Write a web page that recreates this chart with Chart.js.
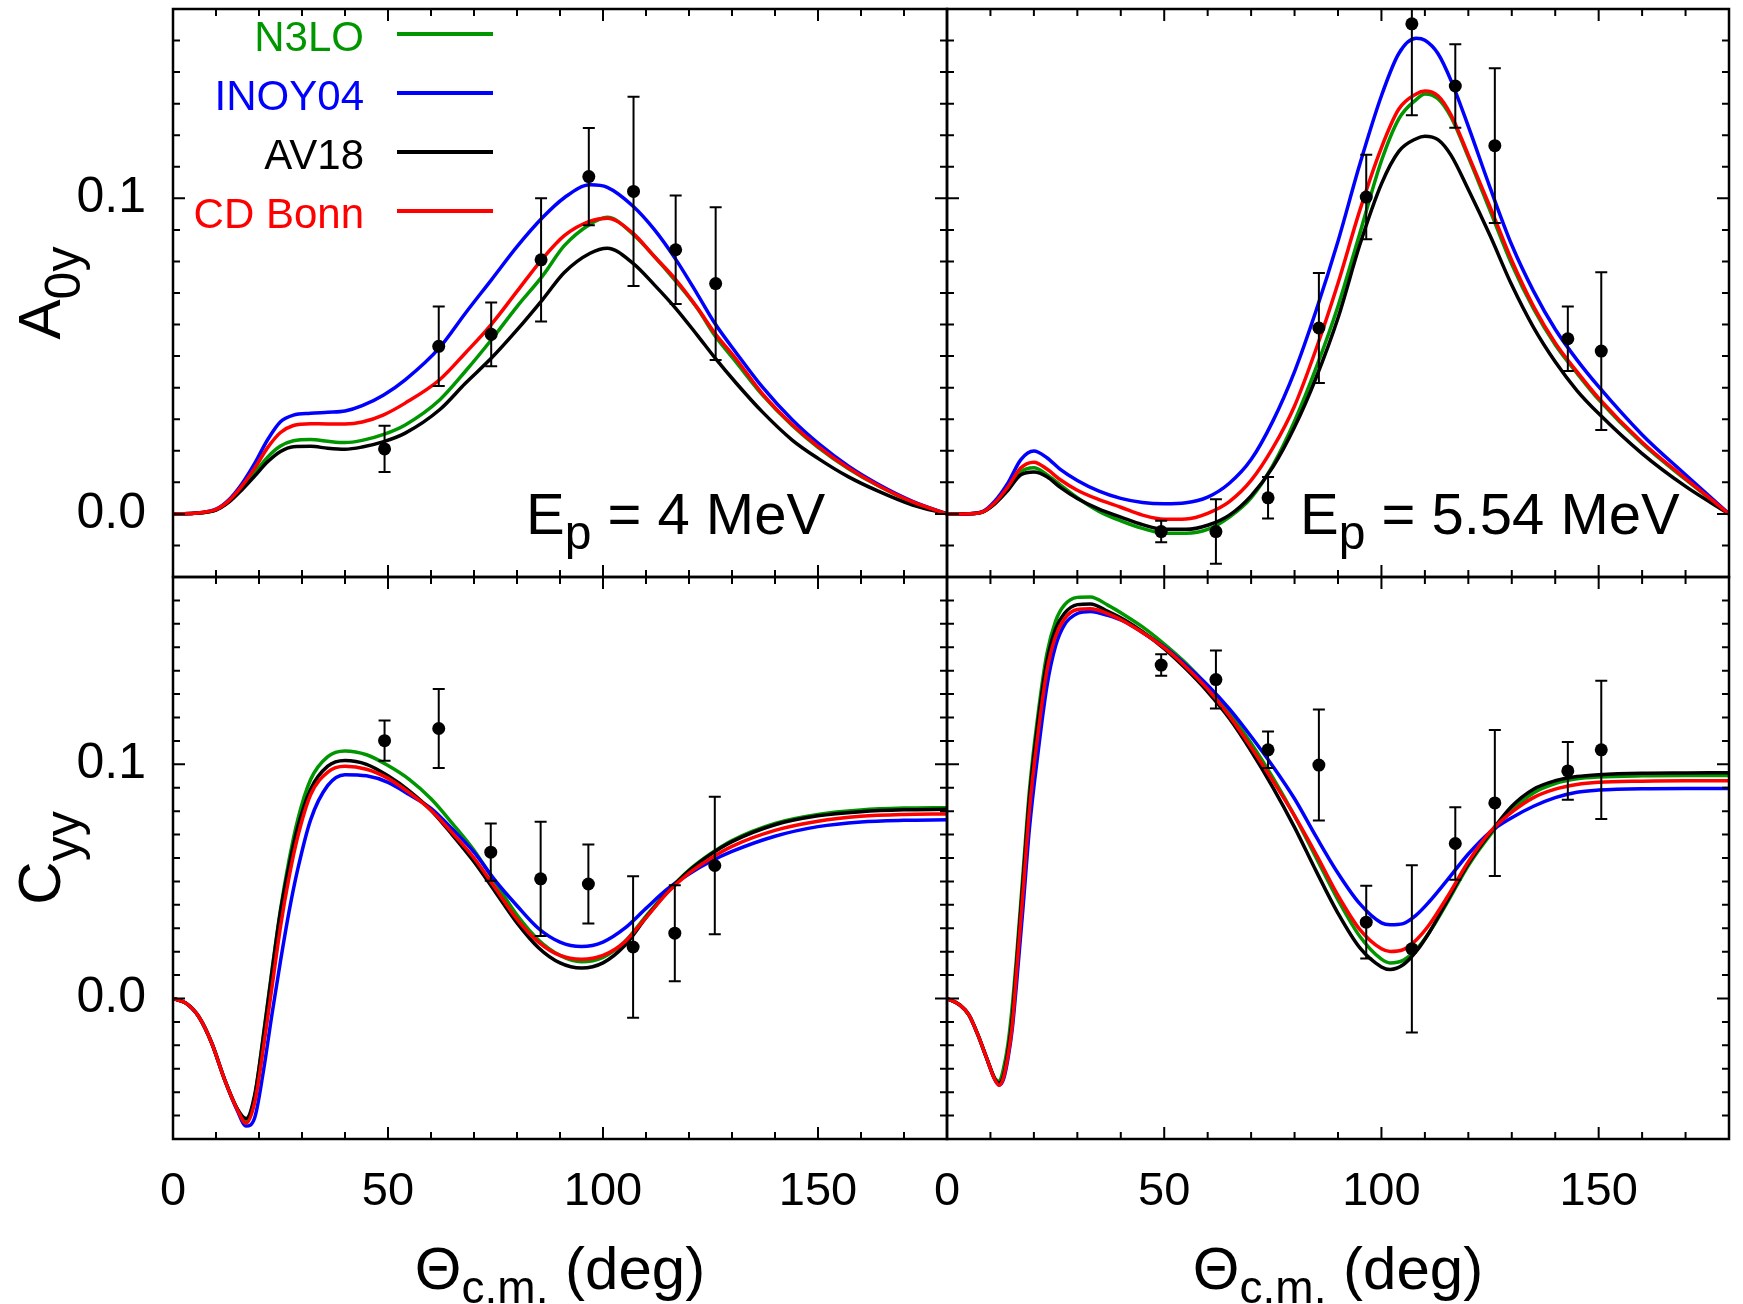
<!DOCTYPE html>
<html>
<head>
<meta charset="utf-8">
<script src="https://cdn.jsdelivr.net/npm/chart.js@4.4.1/dist/chart.umd.min.js"></script>
<style>
html,body{margin:0;padding:0;background:#fff;}
#wrap{position:relative;width:1743px;height:1304px;overflow:hidden;background:#fff;}
#wrap canvas{position:absolute;left:0;top:0;}
</style>
</head>
<body>
<div id="wrap">
<canvas id="cTL" width="1743" height="1304"></canvas>
<canvas id="cTR" width="1743" height="1304"></canvas>
<canvas id="cBL" width="1743" height="1304"></canvas>
<canvas id="cBR" width="1743" height="1304"></canvas>
</div>
<script>
// ---------------- data ----------------
const seriesNames = ['N3LO', 'INOY04', 'AV18', 'CD Bonn'];
const energies = ['4 MeV', '5.54 MeV'];
const xTickValues = [0, 50, 100, 150];
const yTickValues = [0.0, 0.1];

// A0y, Ep = 4 MeV
const thetaA4 = [0,5,10,13,16,19,22,25,28,32,36,40,44,49,54,62,68,74,80,86,91,97,101,107,112,117,122,126,131,137,144,150,157,164,172,180];
const A4_N3LO   = [0,0.0002,0.0013,0.0040,0.0082,0.0130,0.0180,0.0215,0.0232,0.0236,0.0230,0.0226,0.0233,0.0252,0.0282,0.0361,0.0452,0.0551,0.0657,0.0755,0.0850,0.0918,0.0940,0.0886,0.0815,0.0736,0.0650,0.0565,0.0480,0.0378,0.0280,0.0211,0.0144,0.0089,0.0037,0];
const A4_INOY04 = [0,0.0002,0.0015,0.0045,0.0095,0.0160,0.0235,0.0292,0.0313,0.0319,0.0322,0.0326,0.0343,0.0377,0.0425,0.0527,0.0636,0.0741,0.0847,0.0940,0.1002,0.1043,0.1035,0.0975,0.0900,0.0805,0.0695,0.0604,0.0510,0.0403,0.0298,0.0224,0.0152,0.0094,0.0040,0];
const A4_AV18   = [0,0.0002,0.0012,0.0037,0.0076,0.0120,0.0165,0.0198,0.0213,0.0214,0.0208,0.0205,0.0212,0.0229,0.0256,0.0330,0.0414,0.0493,0.0583,0.0680,0.0765,0.0826,0.0842,0.0794,0.0725,0.0650,0.0565,0.0495,0.0414,0.0324,0.0234,0.0176,0.0118,0.0072,0.0028,0];
const A4_CDBonn = [0,0.0002,0.0014,0.0042,0.0088,0.0145,0.0210,0.0258,0.0280,0.0286,0.0285,0.0285,0.0291,0.0314,0.0351,0.0425,0.0510,0.0600,0.0705,0.0810,0.0882,0.0928,0.0937,0.0889,0.0815,0.0741,0.0652,0.0573,0.0490,0.0382,0.0283,0.0214,0.0146,0.0090,0.0038,0];
const expThetaA4 = [49.2,61.8,74.0,85.6,96.7,107.1,116.9,126.2];
const expA4      = [0.0206,0.0531,0.0569,0.0805,0.1069,0.1022,0.0837,0.0730];
const errA4      = [0.0073,0.0126,0.0101,0.0195,0.0154,0.0300,0.0172,0.0242];

// A0y, Ep = 5.54 MeV
const thetaA554 = [0,4,8,11,14,17,20,23,26,30,35,40,45,50,55,60,65,70,75,80,85,90,95,100,104,108,110,113,116,120,125,130,135,140,145,150,160,170,180];
const A554_N3LO   = [0,0,0.0005,0.0033,0.0075,0.0133,0.0146,0.0124,0.0093,0.0051,0.0008,-0.0022,-0.0046,-0.0061,-0.0061,-0.0049,-0.0010,0.0051,0.0154,0.0294,0.0464,0.0658,0.0888,0.1119,0.1252,0.1313,0.1331,0.1316,0.1258,0.1131,0.0961,0.0791,0.0650,0.0536,0.0446,0.0362,0.0223,0.0109,0];
const A554_INOY04 = [0,0,0.0006,0.0040,0.0097,0.0172,0.0199,0.0178,0.0142,0.0106,0.0072,0.0049,0.0036,0.0032,0.0035,0.0053,0.0097,0.0172,0.0294,0.0451,0.0646,0.0864,0.1107,0.1325,0.1459,0.1507,0.1501,0.1459,0.1374,0.1228,0.1034,0.0852,0.0706,0.0585,0.0488,0.0403,0.0251,0.0124,0];
const A554_AV18   = [0,0,0.0005,0.0032,0.0075,0.0124,0.0133,0.0118,0.0085,0.0049,0.0015,-0.0010,-0.0034,-0.0049,-0.0049,-0.0036,-0.0004,0.0057,0.0148,0.0275,0.0433,0.0621,0.0852,0.1046,0.1149,0.1189,0.1197,0.1186,0.1137,0.1028,0.0882,0.0725,0.0591,0.0482,0.0391,0.0318,0.0191,0.0087,0];
const A554_CDBonn = [0,0,0.0005,0.0035,0.0085,0.0146,0.0164,0.0142,0.0109,0.0075,0.0045,0.0021,-0.0004,-0.0017,-0.0016,0.0002,0.0039,0.0106,0.0209,0.0342,0.0524,0.0731,0.0961,0.1161,0.1283,0.1331,0.1340,0.1325,0.1265,0.1137,0.0973,0.0803,0.0658,0.0542,0.0451,0.0367,0.0227,0.0112,0];
const expThetaA554 = [49.3,61.9,73.9,85.6,96.5,107.0,117.0,126.1,142.9,150.6];
const expA554      = [-0.0056,-0.0056,0.0051,0.0589,0.1004,0.1553,0.1356,0.1167,0.0555,0.0516];
const errA554      = [0.0034,0.0102,0.0066,0.0174,0.0134,0.0290,0.0132,0.0245,0.0102,0.0250];

// Cyy, Ep = 4 MeV
const thetaC4 = [0,3,6,9,12,15,17,19,21,23,25,27,29,32,36,40,45,50,55,60,65,70,75,80,85,90,95,100,105,110,115,120,125,130,140,150,160,170,180];
const C4_N3LO   = [0,-0.0020,-0.0078,-0.0190,-0.0346,-0.0474,-0.0525,-0.0420,-0.0158,0.0119,0.0380,0.0592,0.0763,0.0935,0.1033,0.1057,0.1041,0.0995,0.0935,0.0853,0.0747,0.0633,0.0494,0.0356,0.0250,0.0184,0.0157,0.0176,0.0241,0.0352,0.0457,0.0548,0.0618,0.0675,0.0748,0.0786,0.0805,0.0813,0.0815];
const C4_INOY04 = [0,-0.0020,-0.0078,-0.0190,-0.0346,-0.0480,-0.0545,-0.0509,-0.0313,-0.0069,0.0160,0.0372,0.0551,0.0763,0.0910,0.0956,0.0951,0.0923,0.0870,0.0812,0.0723,0.0625,0.0502,0.0396,0.0299,0.0241,0.0222,0.0241,0.0299,0.0385,0.0468,0.0532,0.0585,0.0628,0.0693,0.0734,0.0754,0.0761,0.0763];
const C4_AV18   = [0,-0.0020,-0.0078,-0.0190,-0.0346,-0.0472,-0.0512,-0.0411,-0.0166,0.0111,0.0372,0.0568,0.0731,0.0894,0.0992,0.1016,0.1000,0.0951,0.0886,0.0804,0.0698,0.0584,0.0454,0.0323,0.0217,0.0152,0.0130,0.0152,0.0225,0.0345,0.0454,0.0545,0.0615,0.0670,0.0742,0.0780,0.0798,0.0806,0.0808];
const C4_CDBonn = [0,-0.0020,-0.0078,-0.0190,-0.0346,-0.0476,-0.0533,-0.0444,-0.0215,0.0046,0.0307,0.0519,0.0690,0.0870,0.0967,0.0992,0.0979,0.0940,0.0878,0.0804,0.0706,0.0600,0.0470,0.0339,0.0241,0.0184,0.0168,0.0184,0.0241,0.0345,0.0452,0.0535,0.0598,0.0650,0.0718,0.0757,0.0778,0.0786,0.0788];
const expThetaC4 = [49.2,61.8,73.9,85.5,96.6,107.0,116.7,126.0];
const expC4      = [0.1101,0.1153,0.0625,0.0511,0.0489,0.0220,0.0279,0.0568];
const errC4      = [0.0086,0.0169,0.0122,0.0244,0.0169,0.0302,0.0205,0.0294];

// Cyy, Ep = 5.54 MeV
const thetaC554 = [0,3,5,7,9,11,12,13,14,15,16,17.5,19,21,23,25,27,30,33,37,41,45,50,55,60,65,70,75,80,85,90,95,100,102,105,108,111,115,120,125,130,135,140,145,150,160,170,180];
const C554_N3LO   = [0,-0.0028,-0.0069,-0.0150,-0.0248,-0.0340,-0.0354,-0.0300,-0.0199,-0.0036,0.0176,0.0535,0.0894,0.1220,0.1473,0.1612,0.1680,0.1713,0.1715,0.1680,0.1636,0.1587,0.1514,0.1432,0.1334,0.1220,0.1090,0.0943,0.0780,0.0600,0.0421,0.0266,0.0168,0.0152,0.0163,0.0209,0.0282,0.0405,0.0568,0.0698,0.0804,0.0878,0.0918,0.0938,0.0946,0.0951,0.0952,0.0952];
const C554_INOY04 = [0,-0.0028,-0.0069,-0.0150,-0.0248,-0.0346,-0.0370,-0.0345,-0.0260,-0.0134,0.0062,0.0388,0.0731,0.1057,0.1334,0.1506,0.1595,0.1644,0.1653,0.1636,0.1608,0.1563,0.1501,0.1424,0.1338,0.1237,0.1119,0.0992,0.0853,0.0690,0.0535,0.0405,0.0323,0.0315,0.0320,0.0356,0.0413,0.0502,0.0617,0.0711,0.0772,0.0821,0.0858,0.0881,0.0890,0.0896,0.0897,0.0897];
const C554_AV18   = [0,-0.0028,-0.0069,-0.0150,-0.0248,-0.0343,-0.0362,-0.0330,-0.0230,-0.0085,0.0144,0.0502,0.0861,0.1188,0.1440,0.1579,0.1644,0.1682,0.1685,0.1653,0.1615,0.1566,0.1494,0.1408,0.1310,0.1196,0.1057,0.0902,0.0731,0.0543,0.0364,0.0217,0.0135,0.0124,0.0144,0.0201,0.0282,0.0413,0.0576,0.0706,0.0821,0.0894,0.0930,0.0948,0.0956,0.0962,0.0963,0.0964];
const C554_CDBonn = [0,-0.0028,-0.0069,-0.0150,-0.0248,-0.0346,-0.0370,-0.0338,-0.0248,-0.0117,0.0111,0.0454,0.0812,0.1139,0.1400,0.1547,0.1620,0.1661,0.1664,0.1644,0.1608,0.1563,0.1498,0.1416,0.1321,0.1207,0.1073,0.0930,0.0780,0.0615,0.0440,0.0295,0.0212,0.0201,0.0209,0.0250,0.0315,0.0429,0.0584,0.0711,0.0796,0.0858,0.0894,0.0914,0.0923,0.0928,0.0930,0.0930];
const expThetaC554 = [49.3,61.9,73.9,85.6,96.5,107.0,117.0,126.1,142.9,150.6];
const expC554      = [0.1424,0.1362,0.1062,0.0997,0.0326,0.0212,0.0662,0.0835,0.0972,0.1062];
const errC554      = [0.0046,0.0124,0.0078,0.0237,0.0155,0.0357,0.0155,0.0312,0.0123,0.0295];

// ---------------- style / layout ----------------
const FONT = '"Liberation Sans", Arial, Helvetica, sans-serif';
const seriesColors = ['#009600', '#0000ff', '#000000', '#ff0000'];
const drawOrder = [4, 3, 2, 1];
const PW = 1743, PH = 1304;
const GX = {L: 173, M: 947, R: 1729};
const GY = {T: 9, M: 577, B: 1139};
const XAXIS_H = 110;
const XTICK_FONT = 47;
const YTICK_FONT = 50;

Chart.defaults.font.family = FONT;
Chart.defaults.color = '#000';

function drawRich(ctx, parts, x, y, align) {
  let w = 0;
  parts.forEach(p => { ctx.font = p.size + 'px ' + FONT; p.w = ctx.measureText(p.t).width; w += p.w; });
  let cx = align === 'center' ? x - w / 2 : (align === 'right' ? x - w : x);
  ctx.textAlign = 'left';
  ctx.textBaseline = 'alphabetic';
  parts.forEach(p => { ctx.font = p.size + 'px ' + FONT; ctx.fillText(p.t, cx, y + (p.dy || 0)); cx += p.w; });
}

const framePlugin = {
  id: 'frameTicks',
  afterDatasetsDraw(chart) {
    const ctx = chart.ctx, a = chart.chartArea;
    const xs = chart.scales.x, ys = chart.scales.y;
    ctx.save();
    ctx.strokeStyle = '#000';
    ctx.lineWidth = 2;
    ctx.beginPath();
    for (let v = 0; v <= 180; v += 10) {
      const px = xs.getPixelForValue(v);
      const len = v % 50 === 0 ? 12 : 7;
      ctx.moveTo(px, a.bottom); ctx.lineTo(px, a.bottom - len);
      ctx.moveTo(px, a.top); ctx.lineTo(px, a.top + len);
    }
    const i0 = Math.round(ys.min * 100), i1 = Math.round(ys.max * 100);
    for (let i = i0; i <= i1; i++) {
      const py = ys.getPixelForValue(i / 100);
      const len = i % 10 === 0 ? 12 : 7;
      ctx.moveTo(a.left, py); ctx.lineTo(a.left + len, py);
      ctx.moveTo(a.right, py); ctx.lineTo(a.right - len, py);
    }
    ctx.stroke();
    ctx.lineWidth = 2.5;
    ctx.strokeRect(a.left, a.top, a.right - a.left, a.bottom - a.top);
    ctx.restore();
  }
};

const errorBarPlugin = {
  id: 'errorBars',
  afterDatasetsDraw(chart) {
    const e = chart.config.options.plugins.errorBars;
    if (!e) return;
    const ctx = chart.ctx, a = chart.chartArea;
    const xs = chart.scales.x, ys = chart.scales.y;
    ctx.save();
    ctx.beginPath();
    ctx.rect(a.left, a.top, a.right - a.left, a.bottom - a.top);
    ctx.clip();
    ctx.strokeStyle = '#000';
    ctx.lineWidth = 2;
    ctx.beginPath();
    e.theta.forEach((t, i) => {
      const px = xs.getPixelForValue(t);
      const hi = ys.getPixelForValue(e.val[i] + e.err[i]);
      const lo = ys.getPixelForValue(e.val[i] - e.err[i]);
      ctx.moveTo(px, hi); ctx.lineTo(px, lo);
      ctx.moveTo(px - 6, hi); ctx.lineTo(px + 6, hi);
      ctx.moveTo(px - 6, lo); ctx.lineTo(px + 6, lo);
    });
    ctx.stroke();
    ctx.restore();
  }
};

const textPlugin = {
  id: 'texts',
  afterDraw(chart) {
    const t = chart.config.options.plugins.texts;
    if (!t) return;
    const ctx = chart.ctx;
    ctx.save();
    ctx.fillStyle = '#000';
    t.forEach(item => {
      if (item.kind === 'rich') {
        ctx.fillStyle = item.color || '#000';
        drawRich(ctx, item.parts, item.x, item.y, item.align);
      } else if (item.kind === 'vrich') {
        ctx.save();
        ctx.translate(item.x, item.y);
        ctx.rotate(-Math.PI / 2);
        ctx.fillStyle = '#000';
        drawRich(ctx, item.parts, 0, 0, 'center');
        ctx.restore();
      } else if (item.kind === 'legend') {
        item.names.forEach((n, k) => {
          const ly = item.y0 + k * item.dy;
          ctx.fillStyle = item.colors[k];
          ctx.font = item.size + 'px ' + FONT;
          ctx.textAlign = 'right';
          ctx.textBaseline = 'alphabetic';
          ctx.fillText(n, item.xText, ly + item.baseOff);
          ctx.strokeStyle = item.colors[k];
          ctx.lineWidth = 4;
          ctx.beginPath();
          ctx.moveTo(item.x1, ly); ctx.lineTo(item.x2, ly);
          ctx.stroke();
        });
      }
    });
    ctx.restore();
  }
};

function buildChart(id, p) {
  const datasets = [{
    type: 'line', label: 'data',
    data: p.expTheta.map((t, i) => ({x: t, y: p.expVal[i]})),
    showLine: false, pointRadius: 6.5, pointBackgroundColor: '#000',
    pointBorderColor: '#000', pointBorderWidth: 0, order: 0
  }];
  p.curves.forEach((vals, k) => {
    datasets.push({
      type: 'line', label: seriesNames[k],
      data: p.theta.map((t, i) => ({x: t, y: vals[i]})),
      borderColor: seriesColors[k], borderWidth: 3.5, pointRadius: 0,
      fill: false, cubicInterpolationMode: 'monotone', order: drawOrder[k]
    });
  });
  const xh = p.showX ? XAXIS_H : 0;
  return new Chart(document.getElementById(id), {
    type: 'line',
    data: {datasets},
    options: {
      responsive: false, animation: false, devicePixelRatio: 1,
      layout: {padding: {left: p.showY ? 0 : p.left, top: p.top, right: PW - p.right, bottom: PH - p.bottom - xh}},
      plugins: {
        legend: {display: false}, tooltip: {enabled: false},
        errorBars: {theta: p.expTheta, val: p.expVal, err: p.expErr},
        texts: p.texts
      },
      scales: {
        x: {
          type: 'linear', min: 0, max: 180, display: p.showX, position: 'bottom',
          grid: {display: false, drawTicks: false}, border: {display: false},
          ticks: {font: {size: XTICK_FONT, family: FONT}, color: '#000', padding: 25, maxRotation: 0, autoSkip: false},
          afterBuildTicks: s => { s.ticks = xTickValues.map(v => ({value: v})); },
          afterFit: s => { s.height = xh; s.paddingLeft = 0; s.paddingRight = 0; }
        },
        y: {
          type: 'linear', min: p.yMin, max: p.yMax, display: p.showY, position: 'left',
          grid: {display: false, drawTicks: false}, border: {display: false},
          ticks: {font: {size: YTICK_FONT, family: FONT}, color: '#000', padding: 27,
                  callback: v => Number(v).toFixed(1)},
          afterBuildTicks: s => { s.ticks = yTickValues.map(v => ({value: v})); },
          afterFit: s => { s.width = p.showY ? p.left : 0; s.paddingTop = 0; s.paddingBottom = 0; }
        }
      }
    },
    plugins: [framePlugin, errorBarPlugin, textPlugin]
  });
}

function xTitle(cx) {
  return {kind: 'rich', x: cx, y: 1289, align: 'center',
    parts: [{t: 'Θ', size: 60}, {t: 'c.m.', size: 46, dy: 14}, {t: ' (deg)', size: 60}]};
}
function epLabel(x, e) {
  return {kind: 'rich', x: x, y: 534, align: 'left',
    parts: [{t: 'E', size: 58}, {t: 'p', size: 48, dy: 15}, {t: ' = ' + e, size: 58}]};
}

buildChart('cTL', {
  theta: thetaA4, curves: [A4_N3LO, A4_INOY04, A4_AV18, A4_CDBonn],
  expTheta: expThetaA4, expVal: expA4, expErr: errA4,
  yMin: -0.02, yMax: 0.16, left: GX.L, right: GX.M, top: GY.T, bottom: GY.M,
  showX: false, showY: true,
  texts: [
    {kind: 'legend', names: seriesNames, colors: seriesColors, size: 42,
     xText: 364, x1: 397, x2: 493, y0: 34, dy: 59, baseOff: 17},
    epLabel(526, energies[0]),
    {kind: 'vrich', x: 60, y: (GY.T + GY.M) / 2, parts: [{t: 'A', size: 60}, {t: '0y', size: 50, dy: 20}]}
  ]
});
buildChart('cTR', {
  theta: thetaA554, curves: [A554_N3LO, A554_INOY04, A554_AV18, A554_CDBonn],
  expTheta: expThetaA554, expVal: expA554, expErr: errA554,
  yMin: -0.02, yMax: 0.16, left: GX.M, right: GX.R, top: GY.T, bottom: GY.M,
  showX: false, showY: false,
  texts: [epLabel(1300, energies[1])]
});
buildChart('cBL', {
  theta: thetaC4, curves: [C4_N3LO, C4_INOY04, C4_AV18, C4_CDBonn],
  expTheta: expThetaC4, expVal: expC4, expErr: errC4,
  yMin: -0.06, yMax: 0.18, left: GX.L, right: GX.M, top: GY.M, bottom: GY.B,
  showX: true, showY: true,
  texts: [
    xTitle((GX.L + GX.M) / 2),
    {kind: 'vrich', x: 60, y: (GY.M + GY.B) / 2, parts: [{t: 'C', size: 60}, {t: 'yy', size: 50, dy: 20}]}
  ]
});
buildChart('cBR', {
  theta: thetaC554, curves: [C554_N3LO, C554_INOY04, C554_AV18, C554_CDBonn],
  expTheta: expThetaC554, expVal: expC554, expErr: errC554,
  yMin: -0.06, yMax: 0.18, left: GX.M, right: GX.R, top: GY.M, bottom: GY.B,
  showX: true, showY: false,
  texts: [xTitle((GX.M + GX.R) / 2)]
});
</script>
</body>
</html>
